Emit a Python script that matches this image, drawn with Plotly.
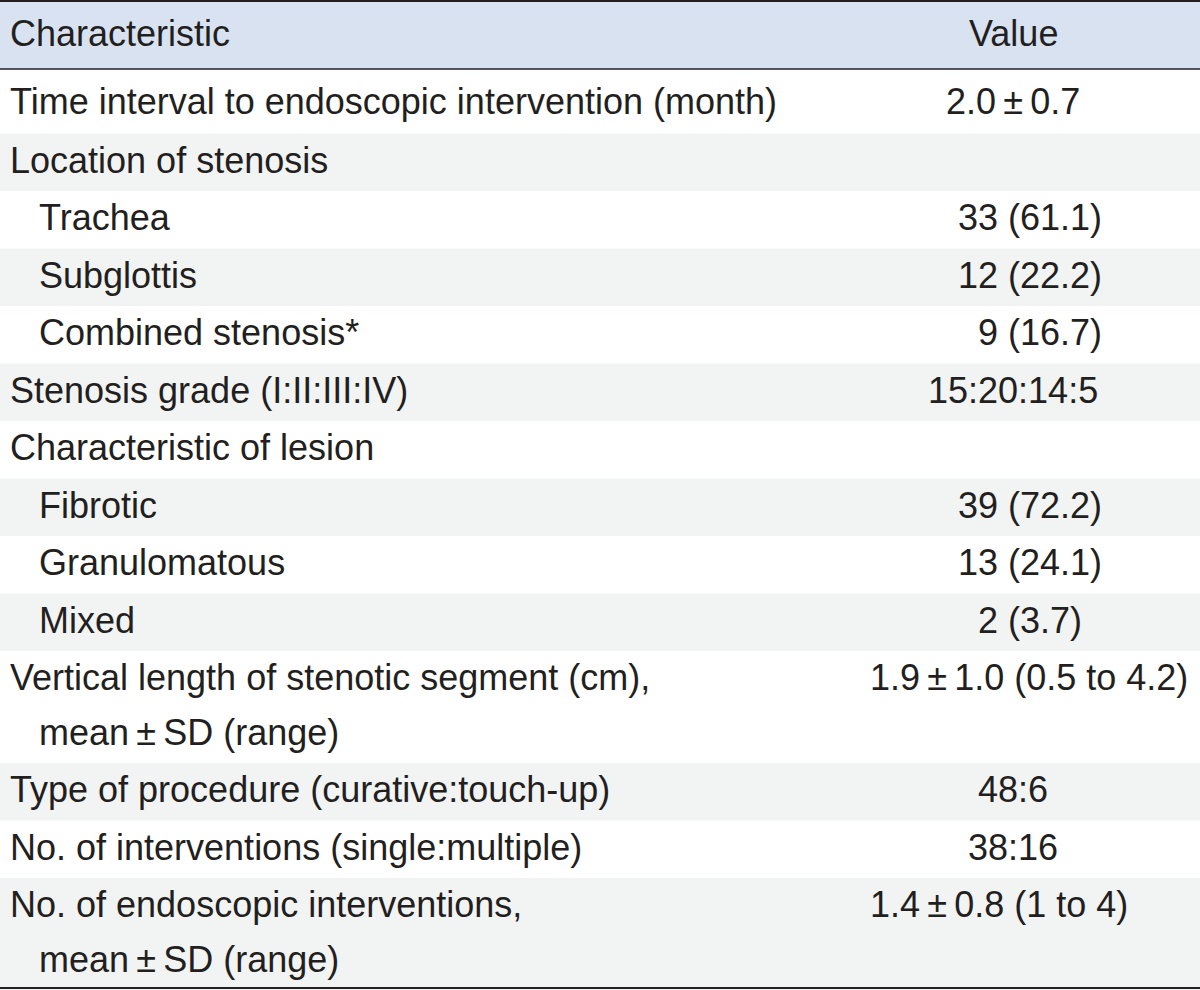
import plotly.graph_objects as go

# ---- data ----
header = ["Characteristic", "Value"]
characteristics = [
    ["Time interval to endoscopic intervention (month)"],
    ["Location of stenosis"],
    ["Trachea"],
    ["Subglottis"],
    ["Combined stenosis*"],
    ["Stenosis grade (I:II:III:IV)"],
    ["Characteristic of lesion"],
    ["Fibrotic"],
    ["Granulomatous"],
    ["Mixed"],
    ["Vertical length of stenotic segment (cm),", "mean\u2009\u00b1\u2009SD (range)"],
    ["Type of procedure (curative:touch-up)"],
    ["No. of interventions (single:multiple)"],
    ["No. of endoscopic interventions,", "mean\u2009\u00b1\u2009SD (range)"],
]
indent_level = [0, 0, 1, 1, 1, 0, 0, 1, 1, 1, 0, 0, 0, 0]
values = [
    "2.0\u2009\u00b1\u20090.7",
    "",
    "33 (61.1)",
    "12 (22.2)",
    "\u20079 (16.7)",
    "15:20:14:5",
    "",
    "39 (72.2)",
    "13 (24.1)",
    "2 (3.7)",
    "1.9\u2009\u00b1\u20091.0 (0.5 to 4.2)",
    "48:6",
    "38:16",
    "1.4\u2009\u00b1\u20090.8 (1 to 4)",
]
# value placement kind: c = centred, p = count (centred, shifted), l = left
value_kind = ["c", "c", "p", "p", "p", "c", "c", "p", "p", "p", "l", "c", "c", "l"]

# ---- style ----
W, H = 1200, 990
FONT = "Liberation Sans, Arial, sans-serif"
FS = 36
TXT = "#231f20"
HEAD_FILL = "#d8e2f1"
STRIPE = "#f2f3f3"
HEADER_TOP, HEADER_BOT = 1, 69
X_MAIN, X_SUB = 8, 37
X_VAL_C, X_VAL_P, X_VAL_L = 1013, 1030, 868
DY = -2

fig = go.Figure()
shapes = []
annotations = []

# header
shapes.append(dict(type="rect", xref="x", yref="y", x0=0, x1=W, y0=HEADER_TOP, y1=HEADER_BOT,
                   fillcolor=HEAD_FILL, line=dict(width=0), layer="below"))
annotations.append(dict(x=X_MAIN, y=(HEADER_TOP + HEADER_BOT) / 2 + DY, text=header[0],
                        xanchor="left", yanchor="middle", showarrow=False))
annotations.append(dict(x=X_VAL_C, y=(HEADER_TOP + HEADER_BOT) / 2 + DY, text=header[1],
                        xanchor="center", yanchor="middle", showarrow=False))

# rows
y = HEADER_BOT + 1
for i, lines in enumerate(characteristics):
    n = len(lines)
    if i == 0:
        h = 63.5
    elif n == 1:
        h = 57.5
    else:
        h = 112
    if i % 2 == 1:
        shapes.append(dict(type="rect", xref="x", yref="y", x0=0, x1=W, y0=y, y1=y + h,
                           fillcolor=STRIPE, line=dict(width=0), layer="below"))
    if n == 1:
        centers = [y + h / 2 + (2 if i == 0 else 0) + DY]
    else:
        centers = [y + 28 + k * 55 + DY for k in range(n)]
    for k, (txt, cy) in enumerate(zip(lines, centers)):
        x = X_SUB if (indent_level[i] == 1 or k > 0) else X_MAIN
        annotations.append(dict(x=x, y=cy, text=txt, xanchor="left", yanchor="middle",
                                showarrow=False))
    if values[i]:
        kind = value_kind[i]
        if kind == "l":
            vx, anc = X_VAL_L, "left"
        elif kind == "p":
            vx, anc = X_VAL_P, "center"
        else:
            vx, anc = X_VAL_C, "center"
        annotations.append(dict(x=vx, y=centers[0], text=values[i], xanchor=anc,
                                yanchor="middle", showarrow=False))
    y += h

# rules
shapes.append(dict(type="line", xref="x", yref="y", x0=0, x1=W, y0=HEADER_TOP, y1=HEADER_TOP,
                   line=dict(color="#231f20", width=2)))
shapes.append(dict(type="line", xref="x", yref="y", x0=0, x1=W, y0=HEADER_BOT, y1=HEADER_BOT,
                   line=dict(color="#231f20", width=1.6)))
shapes.append(dict(type="line", xref="x", yref="y", x0=0, x1=W, y0=988, y1=988,
                   line=dict(color="#231f20", width=2.2)))

fig.update_layout(
    width=W, height=H,
    margin=dict(l=0, r=0, t=0, b=0),
    paper_bgcolor="white", plot_bgcolor="white",
    xaxis=dict(range=[0, W], visible=False, fixedrange=True),
    yaxis=dict(range=[H, 0], visible=False, fixedrange=True),
    shapes=shapes,
    annotations=annotations,
    font=dict(family=FONT, size=FS, color=TXT),
    showlegend=False,
)
fig.write_html("out.html", config={"displayModeBar": False},
               post_script="document.body.style.margin='0px';document.body.style.overflow='hidden';")
